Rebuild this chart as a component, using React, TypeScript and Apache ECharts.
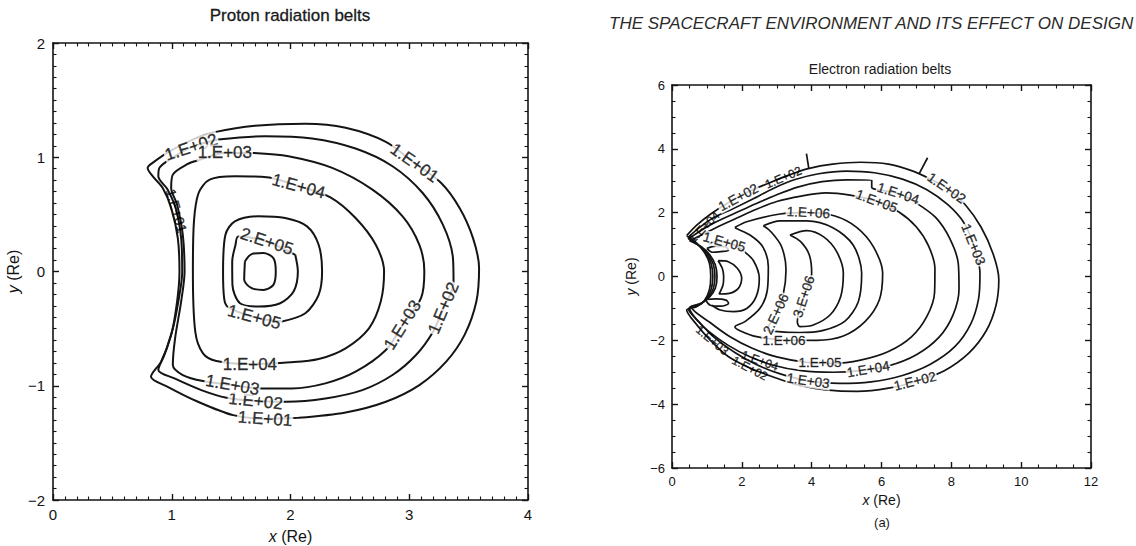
import React, { useEffect, useRef } from "react";
import * as echarts from "echarts";

type Pt = [number, number];
// [x, y, level, angle in degrees]
type LabelSpec = [number, number, number, number];

const FONT = "'Liberation Sans', Arial, Helvetica, sans-serif";
const INK = "#141414";

// ---------- Proton radiation belts (x, y in Earth radii) ----------
const protonXTicks = { min: 0, max: 4, step: 1, minor: 10 };
const protonYTicks = { min: -2, max: 2, step: 1, minor: 10 };

const proton1e1: Pt[] = [
  [2.068, -1.281], [1.786, -1.29], [1.517, -1.257], [1.221, -1.14], [0.966, -1.009], [0.825, -0.921],
  [0.91, -0.789], [0.995, -0.555], [1.045, -0.263], [1.065, 0.0], [1.051, 0.292], [0.995, 0.556],
  [0.924, 0.731], [0.839, 0.834], [0.797, 0.907], [0.839, 0.951], [0.995, 1.06], [1.2, 1.165],
  [1.362, 1.22], [1.701, 1.275], [2.125, 1.293], [2.464, 1.258], [2.803, 1.135], [3.043, 0.95],
  [3.269, 0.775], [3.424, 0.556], [3.537, 0.292], [3.588, 0.029], [3.565, -0.263], [3.466, -0.555],
  [3.311, -0.789], [3.085, -0.994], [2.803, -1.14], [2.464, -1.234], [2.068, -1.281],
];
const proton1e2: Pt[] = [
  [1.39, 1.155], [1.786, 1.184], [2.181, 1.164], [2.548, 1.076], [2.859, 0.921], [3.113, 0.687],
  [3.283, 0.41], [3.368, 0.117], [3.373, -0.102], [3.288, -0.321], [3.198, -0.532], [3.057, -0.731],
  [2.859, -0.906], [2.605, -1.038], [2.294, -1.111], [1.969, -1.14], [1.706, -1.134], [1.461, -1.105],
  [1.249, -1.038], [1.023, -0.936], [0.887, -0.862], [0.938, -0.731], [1.017, -0.468], [1.074, -0.146],
  [1.088, 0.0], [1.079, 0.292], [1.037, 0.541], [0.966, 0.716], [0.887, 0.833], [0.896, 0.907],
  [0.995, 0.988], [1.164, 1.088], [1.39, 1.155],
];
const proton1e3: Pt[] = [
  [1.687, 1.038], [1.983, 1.009], [2.351, 0.907], [2.69, 0.717], [2.944, 0.483], [3.085, 0.234],
  [3.127, 0.0], [3.099, -0.234], [2.944, -0.468], [2.803, -0.687], [2.548, -0.877], [2.294, -0.979],
  [2.012, -1.023], [1.757, -1.023], [1.511, -0.994], [1.263, -0.959], [1.093, -0.906], [1.009, -0.819],
  [1.028, -0.585], [1.079, -0.263], [1.108, 0.0], [1.093, 0.322], [1.045, 0.585], [0.995, 0.731],
  [1.009, 0.848], [1.136, 0.942], [1.215, 0.971], [1.447, 1.038], [1.687, 1.038],
];
const proton1e4: Pt[] = [
  [2.068, 0.746], [2.336, 0.649], [2.548, 0.468], [2.718, 0.234], [2.788, 0.0], [2.76, -0.263],
  [2.661, -0.497], [2.464, -0.672], [2.237, -0.766], [1.997, -0.795], [1.658, -0.81], [1.376, -0.783],
  [1.263, -0.716], [1.198, -0.526], [1.178, 0.0], [1.187, 0.439], [1.226, 0.687], [1.319, 0.804],
  [1.531, 0.833], [1.8, 0.825], [2.068, 0.746],
];
const proton1e5: Pt[] = [
  [1.927, -0.438], [2.125, -0.365], [2.237, -0.204], [2.266, 0.0], [2.237, 0.234], [2.139, 0.395],
  [1.955, 0.468], [1.729, 0.483], [1.531, 0.439], [1.452, 0.322], [1.432, 0.0], [1.441, -0.234],
  [1.469, -0.307], [1.695, -0.4], [1.927, -0.438],
];
const proton2e5: Pt[] = [
  [2.04, 0.146], [2.062, 0.0], [2.026, -0.175], [1.913, -0.278], [1.729, -0.307], [1.574, -0.278],
  [1.511, -0.117], [1.509, 0.088], [1.537, 0.234], [1.56, 0.307], [1.8, 0.263], [2.04, 0.146],
];
const proton3e5: Pt[] = [
  [1.616, 0.088], [1.673, 0.152], [1.771, 0.161], [1.856, 0.117], [1.876, 0.0], [1.856, -0.117],
  [1.771, -0.161], [1.673, -0.146], [1.61, -0.073], [1.616, 0.088],
];
const protonContours: [number, Pt[]][] = [
  [1e1, proton1e1], [1e2, proton1e2], [1e3, proton1e3], [1e4, proton1e4],
  [1e5, proton1e5], [2e5, proton2e5], [3e5, proton3e5],
];
const protonLabels: LabelSpec[] = [
  [3.043, 0.95, 1e1, -35], [1.786, -1.29, 1e1, -4],
  [1.164, 1.088, 1e2, 18], [3.288, -0.321, 1e2, 67], [1.706, -1.134, 1e2, -6],
  [1.447, 1.038, 1e3, 0], [2.944, -0.468, 1e3, 58], [1.511, -0.994, 1e3, -10],
  [2.068, 0.746, 1e4, -15], [1.658, -0.81, 1e4, 0],
  [1.695, -0.4, 1e5, -15], [1.8, 0.263, 2e5, -18],
];
// label sitting on the crowded inner edge, drawn over the lines
const protonEdgeLabels: LabelSpec[] = [[1.04, 0.53, 1e1, -74]];

// ---------- Electron radiation belts ----------
const electronXTicks = { min: 0, max: 12, step: 2, minor: 4 };
const electronYTicks = { min: -6, max: 6, step: 2, minor: 4 };

const electron1e2: Pt[] = [
  [0.42, 1.28], [0.7, 1.6], [1.1, 1.95], [1.6, 2.3], [2.2, 2.66], [2.8, 2.94], [3.4, 3.2], [3.9, 3.38],
  [4.6, 3.52], [5.4, 3.58], [6.2, 3.52], [6.9, 3.3], [7.4, 3.05], [7.9, 2.75], [8.4, 2.25], [8.85, 1.55],
  [9.2, 0.7], [9.36, -0.1], [9.28, -0.9], [9.0, -1.7], [8.5, -2.4], [7.8, -2.95], [7.0, -3.28],
  [6.2, -3.5], [5.3, -3.6], [4.4, -3.55], [3.6, -3.4], [2.9, -3.15], [2.2, -2.85], [1.6, -2.5],
  [1.1, -2.0], [0.7, -1.5], [0.42, -1.05], [0.7, -0.95], [0.93, -0.75], [1.07, -0.42], [1.11, 0.0],
  [1.07, 0.42], [0.93, 0.75], [0.7, 1.05], [0.42, 1.28],
];
const electron1e3: Pt[] = [
  [0.45, 1.22], [0.75, 1.5], [1.15, 1.82], [1.7, 2.1], [2.3, 2.42], [2.9, 2.76], [3.5, 3.03], [4.2, 3.22],
  [5.0, 3.3], [5.8, 3.25], [6.6, 3.05], [7.3, 2.72], [7.9, 2.25], [8.35, 1.7], [8.65, 0.95], [8.82, 0.1],
  [8.78, -0.7], [8.55, -1.5], [8.1, -2.2], [7.4, -2.75], [6.6, -3.1], [5.7, -3.3], [4.8, -3.35],
  [3.9, -3.27], [3.1, -3.05], [2.4, -2.75], [1.8, -2.38], [1.2, -1.9], [0.8, -1.45], [0.47, -1.02],
  [0.74, -0.92], [0.97, -0.72], [1.12, -0.41], [1.17, 0.0], [1.12, 0.41], [0.97, 0.74], [0.74, 1.0],
  [0.45, 1.22],
];
const electron1e4: Pt[] = [
  [0.47, 1.18], [0.8, 1.42], [1.2, 1.68], [1.8, 1.98], [2.4, 2.28], [3.0, 2.56], [3.6, 2.8], [4.3, 2.97],
  [5.0, 3.03], [5.72, 3.02], [5.72, 2.8], [6.48, 2.6], [7.0, 2.3], [7.55, 1.85], [7.95, 1.2], [8.2, 0.4],
  [8.22, -0.4], [8.05, -1.2], [7.65, -1.9], [7.0, -2.45], [6.2, -2.8], [5.4, -2.95], [4.6, -3.0],
  [3.7, -2.95], [2.9, -2.78], [2.2, -2.5], [1.6, -2.15], [1.05, -1.72], [0.7, -1.35], [0.5, -0.98],
  [0.79, -0.87], [1.02, -0.68], [1.18, -0.39], [1.23, 0.0], [1.18, 0.39], [1.02, 0.71], [0.79, 0.96],
  [0.47, 1.18],
];
const electron1e5: Pt[] = [
  [0.5, 1.12], [0.85, 1.3], [1.3, 1.55], [1.8, 1.8], [2.4, 2.1], [3.0, 2.35], [3.7, 2.52], [4.4, 2.62],
  [5.1, 2.55], [5.86, 2.36], [6.5, 2.02], [7.0, 1.55], [7.35, 0.95], [7.53, 0.25], [7.52, -0.5],
  [7.3, -1.25], [6.85, -1.9], [6.2, -2.35], [5.4, -2.62], [4.6, -2.72], [3.8, -2.68], [3.0, -2.52],
  [2.3, -2.25], [1.65, -1.88], [1.1, -1.45], [0.55, -0.95], [0.84, -0.84], [1.08, -0.64], [1.24, -0.37],
  [1.29, 0.0], [1.24, 0.37], [1.08, 0.68], [0.84, 0.93], [0.5, 1.12],
];
const electron1e6: Pt[] = [
  [1.804, 1.54], [2.138, 1.717], [3.093, 1.958], [3.904, 2.0], [4.668, 1.895], [5.288, 1.54],
  [5.766, 0.934], [6.033, 0.099], [5.937, -0.737], [5.527, -1.415], [4.907, -1.864], [4.143, -2.0],
  [3.207, -1.99], [2.425, -1.885], [1.947, -1.697], [1.804, -1.572], [2.09, -1.415], [2.52, -0.998],
  [2.73, -0.423], [2.759, 0.308], [2.597, 0.934], [2.234, 1.3], [1.833, 1.509], [1.804, 1.54],
];
const electron2e6: Pt[] = [
  [2.616, 1.59], [3.093, 1.74], [3.856, 1.74], [4.62, 1.52], [5.193, 0.98], [5.432, 0.099],
  [5.336, -0.789], [4.954, -1.4], [4.334, -1.69], [3.666, -1.76], [2.95, -1.72], [2.73, -1.66],
  [2.978, -1.175], [3.188, -0.549], [3.265, 0.203], [3.14, 0.934], [2.854, 1.38], [2.616, 1.59],
];
const electron3e6: Pt[] = [
  [3.379, 1.3], [3.856, 1.436], [4.334, 1.248], [4.716, 0.778], [4.907, 0.099], [4.83, -0.632],
  [4.525, -1.207], [4.047, -1.52], [3.666, -1.572], [3.589, -1.415], [3.78, -0.632], [4.0, 0.099],
  [3.933, 0.673], [3.685, 1.091], [3.379, 1.3],
];
// inner belt close to the Earth
const electronInner1e5: Pt[] = [
  [1.05, 1.02], [1.3, 1.1], [1.55, 1.08], [1.8, 0.98], [2.05, 0.8], [2.33, 0.5], [2.5, -0.06],
  [2.41, -0.63], [2.14, -1.0], [1.76, -1.1], [1.38, -1.05], [1.14, -0.9],
];
const electronInnerPeak: Pt[] = [
  [1.32, 0.496], [1.613, 0.464], [1.871, 0.256], [1.995, -0.058], [1.9, -0.371], [1.642, -0.528],
  [1.35, -0.549], [1.46, -0.266], [1.48, -0.006], [1.44, 0.256], [1.32, 0.496],
];
const electronInnerUpper: Pt[] = [
  [1.0, 0.88], [1.25, 0.95], [1.55, 0.92], [1.62, 0.82], [1.4, 0.78], [1.15, 0.76], [1.0, 0.88],
];
const electronInnerLower: Pt[] = [
  [0.95, -0.72], [1.25, -0.7], [1.55, -0.74], [1.62, -0.84], [1.4, -0.93], [1.1, -0.9], [0.95, -0.72],
];
// short jumps where the traced contours step between grid rows
const electronSteps: Pt[][] = [
  [[3.85, 3.85], [3.92, 3.37]],
  [[7.32, 3.72], [7.08, 3.22]],
];
const electronContours: [number, Pt[]][] = [
  [1e2, electron1e2], [1e3, electron1e3], [1e4, electron1e4], [1e5, electron1e5],
  [1e6, electron1e6], [2e6, electron2e6], [3e6, electron3e6],
  [1e5, electronInner1e5], [1e5, electronInnerUpper], [1e5, electronInnerLower], [2e5, electronInnerPeak],
];
const electronLabels: LabelSpec[] = [
  [3.904, 2.0, 1e6, -3], [3.207, -1.99, 1e6, 0], [2.978, -1.175, 2e6, 65], [3.78, -0.632, 3e6, 72],
  [5.86, 2.36, 1e5, -20], [4.24, -2.71, 1e5, 0], [6.48, 2.6, 1e4, -18], [5.62, -2.91, 1e4, 10],
  [8.63, 1.0, 1e3, -68], [3.9, -3.27, 1e3, -8], [7.86, 2.77, 1e2, -35], [6.96, -3.28, 1e2, 14],
  [1.9, 2.48, 1e2, 28], [1.5, 1.08, 1e5, -15],
];
const electronCrowdedLabels: LabelSpec[] = [
  [3.19, 3.1, 1e2, 23], [2.52, -2.64, 1e4, -20], [2.23, -2.88, 1e2, -28], [0.92, 1.55, 1e4, 45],
  [1.15, -2.0, 1e3, -40],
];

// 2e5 -> "2.E+05"
const levelText = (v: number): string => {
  const e = Math.floor(Math.log10(v) + 1e-9);
  const m = Math.round(v / Math.pow(10, e));
  return `${m}.E+${String(e).padStart(2, "0")}`;
};
const tickText = (v: number): string => (v < 0 ? "\u2212" + Math.abs(v) : String(v));

type Ticks = { min: number; max: number; step: number; minor: number };

const makeAxis = (
  gridIndex: number,
  position: string,
  t: Ticks,
  showLabels: boolean,
  labelSize: number,
  labelMargin: number,
  name?: string,
  nameGap?: number,
  nameSize?: number
) => ({
  type: "value",
  gridIndex,
  position,
  min: t.min,
  max: t.max,
  interval: t.step,
  axisLine: { show: true, onZero: false, lineStyle: { color: INK, width: 1.6 } },
  axisTick: { show: true, inside: true, length: 6, lineStyle: { color: INK, width: 1.4 } },
  minorTick: { show: true, splitNumber: t.minor, length: 3.5, lineStyle: { color: INK, width: 1.1 } },
  splitLine: { show: false },
  minorSplitLine: { show: false },
  axisLabel: {
    show: showLabels,
    margin: labelMargin,
    fontSize: labelSize,
    color: INK,
    fontFamily: FONT,
    formatter: tickText,
  },
  name,
  nameLocation: "middle",
  nameGap,
  nameTextStyle: {
    fontSize: nameSize,
    color: INK,
    fontFamily: FONT,
    rich: { i: { fontStyle: "italic", fontSize: nameSize, color: INK, fontFamily: FONT } },
  },
});

const lineSeries = (contours: [number, Pt[]][], axisIndex: number, width: number) =>
  contours.map(([level, pts]) => ({
    type: "line",
    name: levelText(level),
    xAxisIndex: axisIndex,
    yAxisIndex: axisIndex,
    data: pts,
    showSymbol: false,
    symbol: "none",
    smooth: 0.3,
    silent: true,
    z: 2,
    lineStyle: { color: INK, width },
  }));

const labelSeries = (labels: LabelSpec[], axisIndex: number, size: number, knockout: boolean) => ({
  type: "scatter",
  xAxisIndex: axisIndex,
  yAxisIndex: axisIndex,
  symbolSize: 1,
  itemStyle: { color: "rgba(0,0,0,0)" },
  silent: true,
  z: 5,
  data: labels.map(([x, y, level, angle]) => ({ value: [x, y, level], label: { rotate: angle } })),
  label: {
    show: true,
    position: "inside",
    formatter: (p: any) => levelText(p.value[2]),
    fontSize: size,
    lineHeight: size,
    fontFamily: FONT,
    color: "#000",
    textBorderColor: "#000",
    textBorderWidth: 0.35,
    backgroundColor: knockout ? "#ffffff" : "transparent",
    padding: knockout ? [0, 1] : 0,
  },
});

export default function App() {
  const ref = useRef<HTMLDivElement>(null);

  useEffect(() => {
    if (!ref.current) return;
    const chart = echarts.init(ref.current, undefined, { renderer: "svg" });
    const option: any = {
      animation: false,
      backgroundColor: "#ffffff",
      grid: [
        { left: 53, top: 43, width: 475, height: 457, containLabel: false, outerBoundsMode: "none" },
        { left: 672, top: 85, width: 419, height: 383, containLabel: false, outerBoundsMode: "none" },
      ],
      xAxis: [
        makeAxis(0, "bottom", protonXTicks, true, 15, 7, "{i|x} (Re)", 28, 16),
        makeAxis(0, "top", protonXTicks, false, 15, 7),
        makeAxis(1, "bottom", electronXTicks, true, 13, 7, "{i|x} (Re)", 24, 14),
        makeAxis(1, "top", electronXTicks, false, 13, 7),
      ],
      yAxis: [
        makeAxis(0, "left", protonYTicks, true, 15, 8, "{i|y} (Re)", 32, 16),
        makeAxis(0, "right", protonYTicks, false, 15, 8),
        makeAxis(1, "left", electronYTicks, true, 13, 7, "{i|y} (Re)", 34, 14),
        makeAxis(1, "right", electronYTicks, false, 13, 7),
      ],
      graphic: [
        {
          type: "text",
          x: 290,
          y: 15,
          style: { text: "Proton radiation belts", font: `17px ${FONT}`, fill: "#1a1a1a", align: "center", verticalAlign: "middle", stroke: "#1a1a1a", lineWidth: 0.3 },
        },
        {
          type: "text",
          x: 880,
          y: 69,
          style: { text: "Electron radiation belts", font: `14px ${FONT}`, fill: "#1a1a1a", align: "center", verticalAlign: "middle" },
        },
        {
          type: "text",
          x: 609,
          y: 23,
          style: {
            text: "THE SPACECRAFT ENVIRONMENT AND ITS EFFECT ON DESIGN",
            font: `italic 17px ${FONT}`,
            fill: "#2a2a2a",
            align: "left",
            verticalAlign: "middle",
          },
        },
        {
          type: "text",
          x: 882,
          y: 522,
          style: { text: "(a)", font: `13px ${FONT}`, fill: "#1a1a1a", align: "center", verticalAlign: "middle" },
        },
      ],
      series: [
        ...lineSeries(protonContours, 0, 2.0),
        ...lineSeries(electronContours, 2, 1.7),
        ...electronSteps.map((pts) => ({
          type: "line",
          xAxisIndex: 2,
          yAxisIndex: 2,
          data: pts,
          showSymbol: false,
          symbol: "none",
          silent: true,
          z: 2,
          lineStyle: { color: INK, width: 1.7 },
        })),
        labelSeries(protonLabels, 0, 17, true),
        labelSeries(protonEdgeLabels, 0, 14, false),
        labelSeries(electronLabels, 2, 13.5, true),
        labelSeries(electronCrowdedLabels, 2, 12, false),
      ],
    };
    chart.setOption(option);
    return () => chart.dispose();
  }, []);

  return (
    <div
      ref={ref}
      style={{ position: "absolute", left: 0, top: 0, width: 1136, height: 546, background: "#fff" }}
    />
  );
}
